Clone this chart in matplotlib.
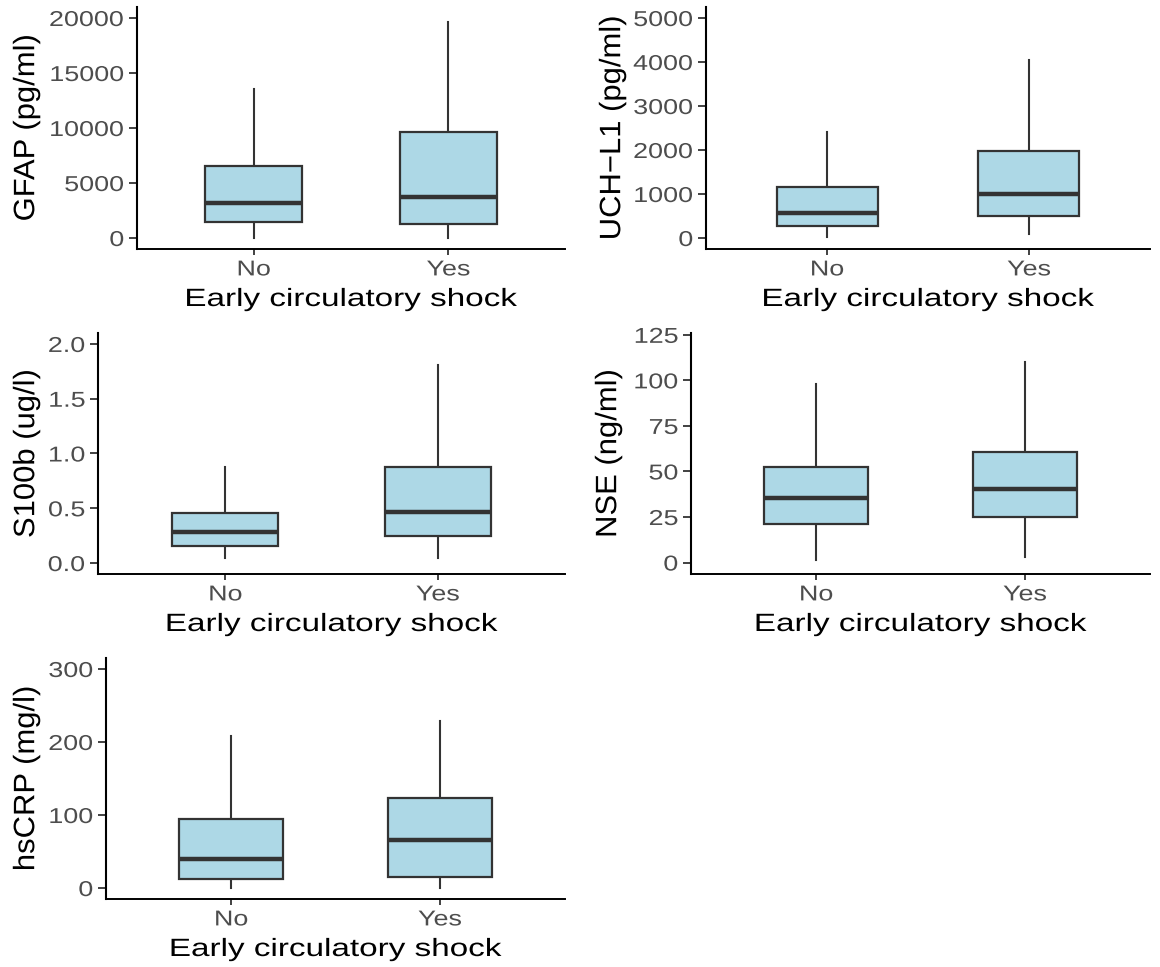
import matplotlib
matplotlib.use("Agg")
import matplotlib.pyplot as plt
from matplotlib.patheffects import AbstractPathEffect
from matplotlib.transforms import Affine2D

# ---------------- data ----------------
categories = ["No", "Yes"]
x_title = "Early circulatory shock"

markers = ["GFAP", "UCH-L1", "S100b", "NSE", "hsCRP"]
y_titles = ["GFAP (pg/ml)", "UCH\u2212L1 (pg/ml)", "S100b (ug/l)", "NSE (ng/ml)", "hsCRP (mg/l)"]

# five-number summaries per group: [No, Yes]
gfap_whislo = [20, 20]
gfap_q1 = [1420, 1250]
gfap_med = [3150, 3700]
gfap_q3 = [6570, 9650]
gfap_whishi = [13550, 19650]

uch_whislo = [30, 80]
uch_q1 = [270, 500]
uch_med = [560, 1000]
uch_q3 = [1150, 1980]
uch_whishi = [2400, 4050]

s100_whislo = [0.05, 0.05]
s100_q1 = [0.16, 0.25]
s100_med = [0.28, 0.47]
s100_q3 = [0.46, 0.88]
s100_whishi = [0.88, 1.81]

nse_whislo = [1.5, 2.9]
nse_q1 = [21, 25]
nse_med = [35.2, 40.2]
nse_q3 = [52.2, 60.4]
nse_whishi = [98, 110]

crp_whislo = [0.5, 0.5]
crp_q1 = [13, 14.5]
crp_med = [40, 66]
crp_q3 = [94, 123]
crp_whishi = [208, 229]

gfap_ticks = [0, 5000, 10000, 15000, 20000]
gfap_ticklabels = ["0", "5000", "10000", "15000", "20000"]
uch_ticks = [0, 1000, 2000, 3000, 4000, 5000]
uch_ticklabels = ["0", "1000", "2000", "3000", "4000", "5000"]
s100_ticks = [0.0, 0.5, 1.0, 1.5, 2.0]
s100_ticklabels = ["0.0", "0.5", "1.0", "1.5", "2.0"]
nse_ticks = [0, 25, 50, 75, 100, 125]
nse_ticklabels = ["0", "25", "50", "75", "100", "125"]
crp_ticks = [0, 100, 200, 300]
crp_ticklabels = ["0", "100", "200", "300"]

# ---------------- styling helpers ----------------
class Stretch(AbstractPathEffect):
    """Draw text stretched along local x / y (mimics the wide reference lettering)."""
    def __init__(self, sx=1.0, sy=1.0, anchor="center"):
        super().__init__()
        self.sx, self.sy, self.anchor = sx, sy, anchor

    def draw_path(self, renderer, gc, tpath, affine, rgbFace=None):
        ext = tpath.get_extents()
        if self.anchor == "right":
            cx = ext.x1
        elif self.anchor == "left":
            cx = ext.x0
        else:
            cx = 0.5 * (ext.x0 + ext.x1)
        cy = 0.5 * (ext.y0 + ext.y1)
        pre = Affine2D().translate(-cx, -cy).scale(self.sx, self.sy).translate(cx, cy)
        renderer.draw_path(gc, tpath, pre + affine, rgbFace)


FONT = ["Liberation Sans", "DejaVu Sans"]
plt.rcParams["font.family"] = FONT

W, H = 1160, 967
fig = plt.figure(figsize=(W / 100, H / 100), dpi=100)
fig.patch.set_facecolor("white")

FILL = "#ADD8E6"
EDGE = "#333333"
TICKC = "#4D4D4D"
TICK_FS = 15.5
TITLE_FS = 18

# panel rectangles in pixels: left, right, top, bottom, ylabel centre x
layout = [
    (137, 565, 7, 249, 26),
    (706, 1150, 7, 249, 612),
    (98, 565, 333, 574, 26),
    (691, 1150, 333, 574, 608),
    (106, 565, 658, 899, 26),
]
xtitle_offset = 50  # px below the axis line (centre of the title)

panels = [
    (gfap_whislo, gfap_q1, gfap_med, gfap_q3, gfap_whishi, gfap_ticks, gfap_ticklabels, (-1000, 21000)),
    (uch_whislo, uch_q1, uch_med, uch_q3, uch_whishi, uch_ticks, uch_ticklabels, (-250, 5250)),
    (s100_whislo, s100_q1, s100_med, s100_q3, s100_whishi, s100_ticks, s100_ticklabels, (-0.1, 2.1)),
    (nse_whislo, nse_q1, nse_med, nse_q3, nse_whishi, nse_ticks, nse_ticklabels, (-6.3, 126)),
    (crp_whislo, crp_q1, crp_med, crp_q3, crp_whishi, crp_ticks, crp_ticklabels, (-15, 315)),
]

for i, (lo, q1, med, q3, hi, ticks, ticklabels, ylim) in enumerate(panels):
    L, R, T, B, ylx = layout[i]
    ax = fig.add_axes([L / W, 1 - B / H, (R - L) / W, (B - T) / H])

    stats = []
    for j, cat in enumerate(categories):
        stats.append(dict(label=cat, whislo=lo[j], q1=q1[j], med=med[j], q3=q3[j],
                          whishi=hi[j], fliers=[]))
    ax.bxp(stats, positions=[1, 2], widths=0.5, patch_artist=True,
           showcaps=False, showfliers=False,
           boxprops=dict(facecolor=FILL, edgecolor=EDGE, linewidth=1.6, joinstyle="miter", zorder=2),
           medianprops=dict(color=EDGE, linewidth=3.2, solid_capstyle="butt", zorder=3),
           whiskerprops=dict(color=EDGE, linewidth=1.5, zorder=1))

    ax.set_xlim(0.4, 2.6)
    ax.set_ylim(*ylim)
    ax.set_xticks([1, 2], labels=categories)
    ax.set_yticks(ticks, labels=ticklabels)

    for side in ("top", "right"):
        ax.spines[side].set_visible(False)
    ax.spines["left"].set_linewidth(1.5)
    ax.spines["bottom"].set_linewidth(1.4)
    ax.spines["left"].set_color("black")
    ax.spines["bottom"].set_color("black")

    ax.tick_params(axis="y", length=5.8, width=1.3, color=EDGE, pad=3.4,
                   labelsize=TICK_FS, labelcolor=TICKC)
    ax.tick_params(axis="x", length=4.3, width=1.3, color=EDGE, pad=3.2,
                   labelsize=TICK_FS, labelcolor=TICKC)

    for lab in ax.get_yticklabels():
        lab.set_path_effects([Stretch(1.25, 1.0, anchor="right")])
    for lab in ax.get_xticklabels():
        lab.set_path_effects([Stretch(1.25, 1.0, anchor="center")])

    xl = ax.set_xlabel(x_title, fontsize=TITLE_FS, color="black", va="center")
    ax.xaxis.set_label_coords(0.5, -(xtitle_offset) / (B - T))
    xl.set_path_effects([Stretch(1.33, 1.0, anchor="center")])

    yl = ax.set_ylabel(y_titles[i], fontsize=TITLE_FS, color="black", va="center")
    ax.yaxis.set_label_coords((ylx - L) / (R - L), 0.5)
    yl.set_path_effects([Stretch(1.24, 1.18, anchor="center")])

fig.savefig("out.png", dpi=100, facecolor="white")
